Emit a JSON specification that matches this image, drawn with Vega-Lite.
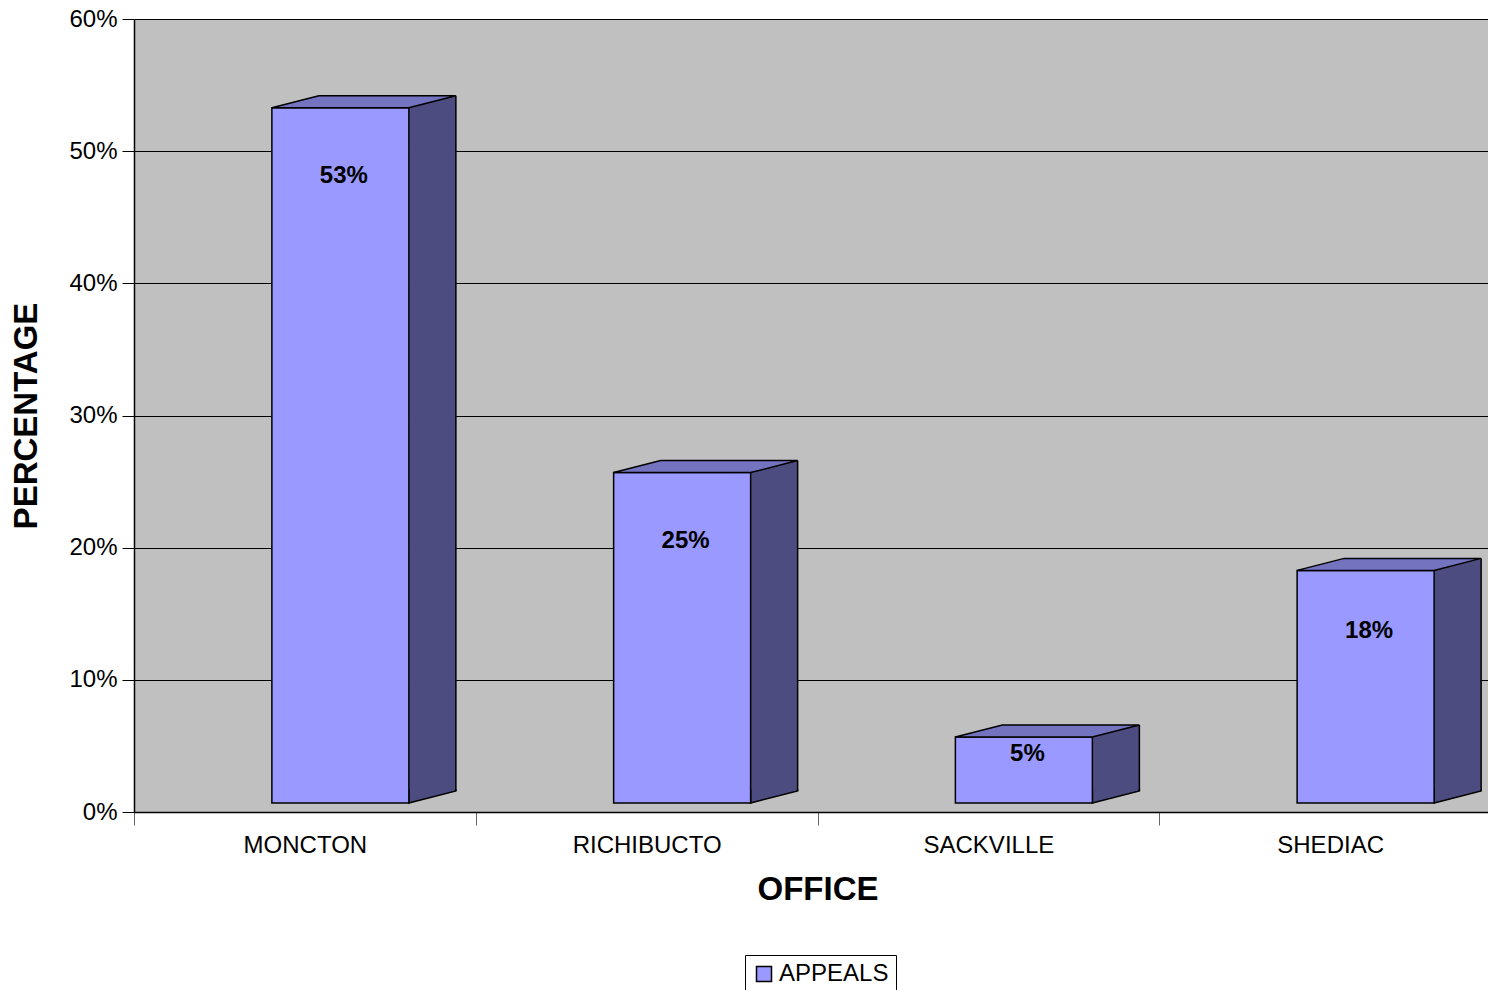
{
  "$schema": "https://vega.github.io/schema/vega-lite/v6.json",
  "width": 1354,
  "height": 793,
  "autosize": "none",
  "padding": {"left": 134, "top": 19, "right": 0, "bottom": 178},
  "background": "white",
  "config": {
    "font": "Liberation Sans",
    "view": {"fill": "#C0C0C0", "stroke": null},
    "axis": {"labelColor": "black", "titleColor": "black", "domainColor": "black", "domainWidth": 1.5}
  },
  "data": {
    "values": [
      {"office": "MONCTON", "share": 0.526, "series": "APPEALS"},
      {"office": "RICHIBUCTO", "share": 0.25, "series": "APPEALS"},
      {"office": "SACKVILLE", "share": 0.05, "series": "APPEALS"},
      {"office": "SHEDIAC", "share": 0.176, "series": "APPEALS"}
    ]
  },
  "encoding": {
    "x": {
      "field": "office",
      "type": "nominal",
      "sort": null,
      "scale": {"range": [0, 1367], "paddingInner": 0, "paddingOuter": 0},
      "axis": {
        "title": "OFFICE",
        "titleFontSize": 33,
        "titleFontWeight": "bold",
        "titlePadding": 16,
        "labelFontSize": 24,
        "labelAngle": 0,
        "labelPadding": 8,
        "tickBand": "extent",
        "tickSize": 13,
        "tickColor": "#666666",
        "grid": false
      }
    },
    "y": {
      "field": "share",
      "type": "quantitative",
      "scale": {"domain": [0, 0.6], "nice": false, "zero": true},
      "axis": {
        "title": "PERCENTAGE",
        "titleFontSize": 33,
        "titleFontWeight": "bold",
        "titlePadding": 25,
        "labelFontSize": 24,
        "labelPadding": 5,
        "format": ".0%",
        "values": [0, 0.1, 0.2, 0.3, 0.4, 0.5, 0.6],
        "tickSize": 12,
        "tickColor": "black",
        "grid": true,
        "gridColor": "black",
        "gridWidth": 1,
        "gridOpacity": 1
      }
    }
  },
  "layer": [
    {
      "mark": {"type": "bar", "width": 47, "xOffset": 127.5, "yOffset": -9, "y2Offset": -21, "color": "#4C4C80", "opacity": 1},
      "encoding": {"y2": {"datum": 0}}
    },
    {
      "mark": {"type": "point", "shape": "M -1 0.2553 L 1 -0.2553 L 1 0.33 L -1 0.33 Z", "size": 2209, "filled": true, "fill": "#4C4C80", "strokeWidth": 0, "opacity": 1, "xOffset": 127.5, "yOffset": -15}
    },
    {
      "mark": {"type": "point", "shape": "M -1 -0.33 L -1 0.2553 L 1 -0.2553 L 1 -0.33", "size": 2209, "filled": false, "fill": "#4C4C80", "fillOpacity": 1, "stroke": "black", "strokeWidth": 1.5, "opacity": 1, "xOffset": 127.5, "yOffset": -15},
      "encoding": {"y": {"datum": 0}}
    },
    {
      "mark": {"type": "rule", "xOffset": 151, "yOffset": -21, "y2Offset": -21, "color": "black", "strokeWidth": 1.5},
      "encoding": {"y2": {"datum": 0}}
    },
    {
      "mark": {"type": "bar", "width": 137, "xOffset": 35.5, "yOffset": -9, "y2Offset": -9, "stroke": "black", "strokeWidth": 1.5, "opacity": 1},
      "encoding": {
        "y2": {"datum": 0},
        "color": {
          "field": "series",
          "type": "nominal",
          "scale": {"range": ["#9999FF"]},
          "legend": {
            "orient": "none",
            "legendX": 611,
            "legendY": 936,
            "title": null,
            "direction": "horizontal",
            "strokeColor": "black",
            "padding": 7,
            "labelFontSize": 24,
            "labelColor": "black",
            "symbolType": "square",
            "symbolSize": 225,
            "symbolStrokeColor": "black",
            "symbolStrokeWidth": 1.5,
            "symbolOpacity": 1,
            "labelOffset": 3
          }
        }
      }
    },
    {
      "mark": {"type": "point", "shape": "M -1 0.0652 L 0.4891 0.0652 L 1 -0.0652 L -0.4891 -0.0652 Z", "size": 33856, "filled": true, "fill": "#7373BF", "stroke": "black", "strokeWidth": 1.5, "opacity": 1, "xOffset": 59, "yOffset": -15}
    },
    {
      "mark": {"type": "text", "fontSize": 24, "fontWeight": "bold", "color": "black", "baseline": "middle", "xOffset": 39, "yOffset": -9, "dy": {"expr": "min(68, datum.share * 345)"}},
      "encoding": {"text": {"field": "share", "type": "quantitative", "format": ".0%"}}
    }
  ]
}
